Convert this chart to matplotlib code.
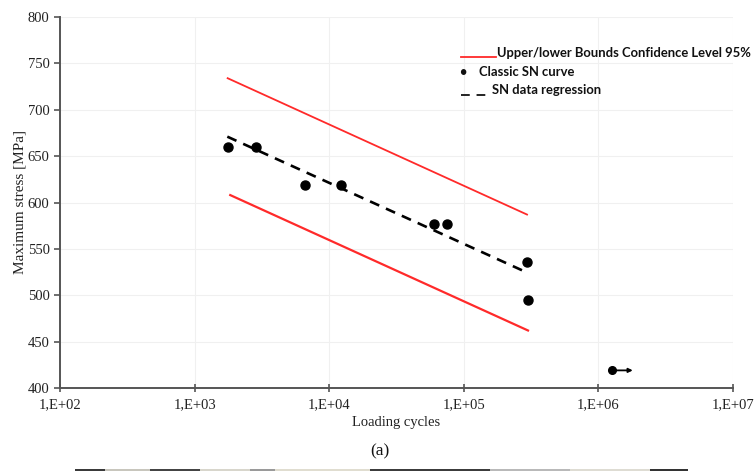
import matplotlib.pyplot as plt
from matplotlib.patches import Rectangle
from matplotlib.lines import Line2D

# fatigue test results (cycles, max stress)
test_cycles = [1.76e3, 2.86e3, 6.6e3, 1.22e4, 5.97e4, 7.5e4, 2.93e5, 3.0e5]
test_stress = [660, 660, 619, 619, 577, 577, 536, 495]

# run-out specimen
runout_cycles = [1.26e6]
runout_stress = [419]
runout_arrow_end = 1.8e6

# regression and 95% bounds (end points of each straight line)
reg_cycles = [1.75e3, 3.0e5]
reg_stress = [671, 524]
upper_cycles = [1.76e3, 2.95e5]
upper_stress = [734, 587]
lower_cycles = [1.84e3, 3.0e5]
lower_stress = [608, 462]

xtick_vals = [1e2, 1e3, 1e4, 1e5, 1e6, 1e7]
xtick_labels = ["1,E+02", "1,E+03", "1,E+04", "1,E+05", "1,E+06", "1,E+07"]
ytick_vals = [400, 450, 500, 550, 600, 650, 700, 750, 800]

serif = "Liberation Serif"
sans = ["Lato", "DejaVu Sans"]

fig = plt.figure(figsize=(7.56, 4.71), dpi=100)
ax = fig.add_axes([60 / 756, 83 / 471, 673 / 756, 371 / 471])

ax.plot(upper_cycles, upper_stress, color="#ff2a2a", lw=1.3)
ax.plot(lower_cycles, lower_stress, color="#ff2a2a", lw=1.6)
ax.plot(reg_cycles, reg_stress, color="black", lw=1.9, ls=(0, (3.8, 2.8)))
ax.plot(test_cycles, test_stress, "o", color="black", ms=6.5, zorder=5)
ax.plot(runout_cycles, runout_stress, "o", color="black", ms=5.5, zorder=5)
for xr, yr in zip(runout_cycles, runout_stress):
    ax.annotate("", xy=(runout_arrow_end, yr), xytext=(xr, yr),
                arrowprops=dict(arrowstyle="-|>", color="black", lw=1.3,
                                mutation_scale=6, shrinkA=0, shrinkB=0))

ax.set_xscale("log")
ax.set_xlim(1e2, 1e7)
ax.set_ylim(400, 800)
ax.set_xticks(xtick_vals)
ax.set_xticklabels(xtick_labels)
ax.minorticks_off()
ax.set_yticks(ytick_vals)
ax.grid(True, color="#f0f0f0", lw=0.8)
ax.set_axisbelow(True)

for side in ("top", "right"):
    ax.spines[side].set_visible(False)
for side in ("left", "bottom"):
    ax.spines[side].set_color("#555555")
    ax.spines[side].set_linewidth(1.4)
ax.tick_params(axis="both", color="#555555", width=1.2, length=4,
               labelsize=10.5, labelcolor="#222222")
ax.tick_params(axis="x", direction="inout", length=6, pad=4)
for lab in ax.get_xticklabels() + ax.get_yticklabels():
    lab.set_fontfamily(serif)

ax.set_xlabel("Loading cycles", fontfamily=serif, fontsize=10.5,
              color="#222222", labelpad=4)
ax.set_ylabel("Maximum stress [MPa]", fontfamily=serif, fontsize=11,
              color="#222222", labelpad=1)

# legend drawn by hand, entries sit inside the plot area
def px(x, y):
    return x / 756, 1 - y / 471

fig.add_artist(Line2D([px(461, 0)[0], px(496, 0)[0]],
                      [px(0, 57)[1]] * 2, color="#ff2a2a", lw=1.3))
fig.text(*px(497, 53), "Upper/lower Bounds Confidence Level 95%",
         family=sans, fontsize=9.4, fontweight="bold", va="center",
         color="#111111")
fig.text(*px(463, 72), "•", family=sans, fontsize=9, fontweight="bold",
         va="center", ha="center", color="#111111")
fig.text(*px(479, 72), "Classic SN curve", family=sans, fontsize=9.4,
         fontweight="bold", va="center", color="#111111")
fig.add_artist(Line2D([px(461, 0)[0], px(489, 0)[0]],
                      [px(0, 95)[1]] * 2, color="#222222", lw=1.4,
                      ls=(0, (4.5, 3.5))))
fig.text(*px(492, 90), "SN data regression", family=sans, fontsize=9.4,
         fontweight="bold", va="center", color="#111111")

fig.text(*px(380, 451), "(a)", family=serif, fontsize=12.5,
         ha="center", va="center", color="#111111")

# top edge of the next panel peeking in at the bottom
strip = [(75, 30, "#3a3a3a"), (105, 45, "#c8c6bd"), (150, 50, "#444444"),
         (200, 50, "#d8d6cc"), (250, 25, "#9a9a9a"), (275, 95, "#e0ddd0"),
         (370, 120, "#3c3c3c"), (490, 80, "#b9b9b9"), (570, 80, "#dedcd3"),
         (650, 38, "#333333")]
for x0, w, c in strip:
    fig.add_artist(Rectangle(px(x0, 471), w / 756, 2 / 471,
                             color=c, lw=0))

fig.savefig("out.png", dpi=100)
